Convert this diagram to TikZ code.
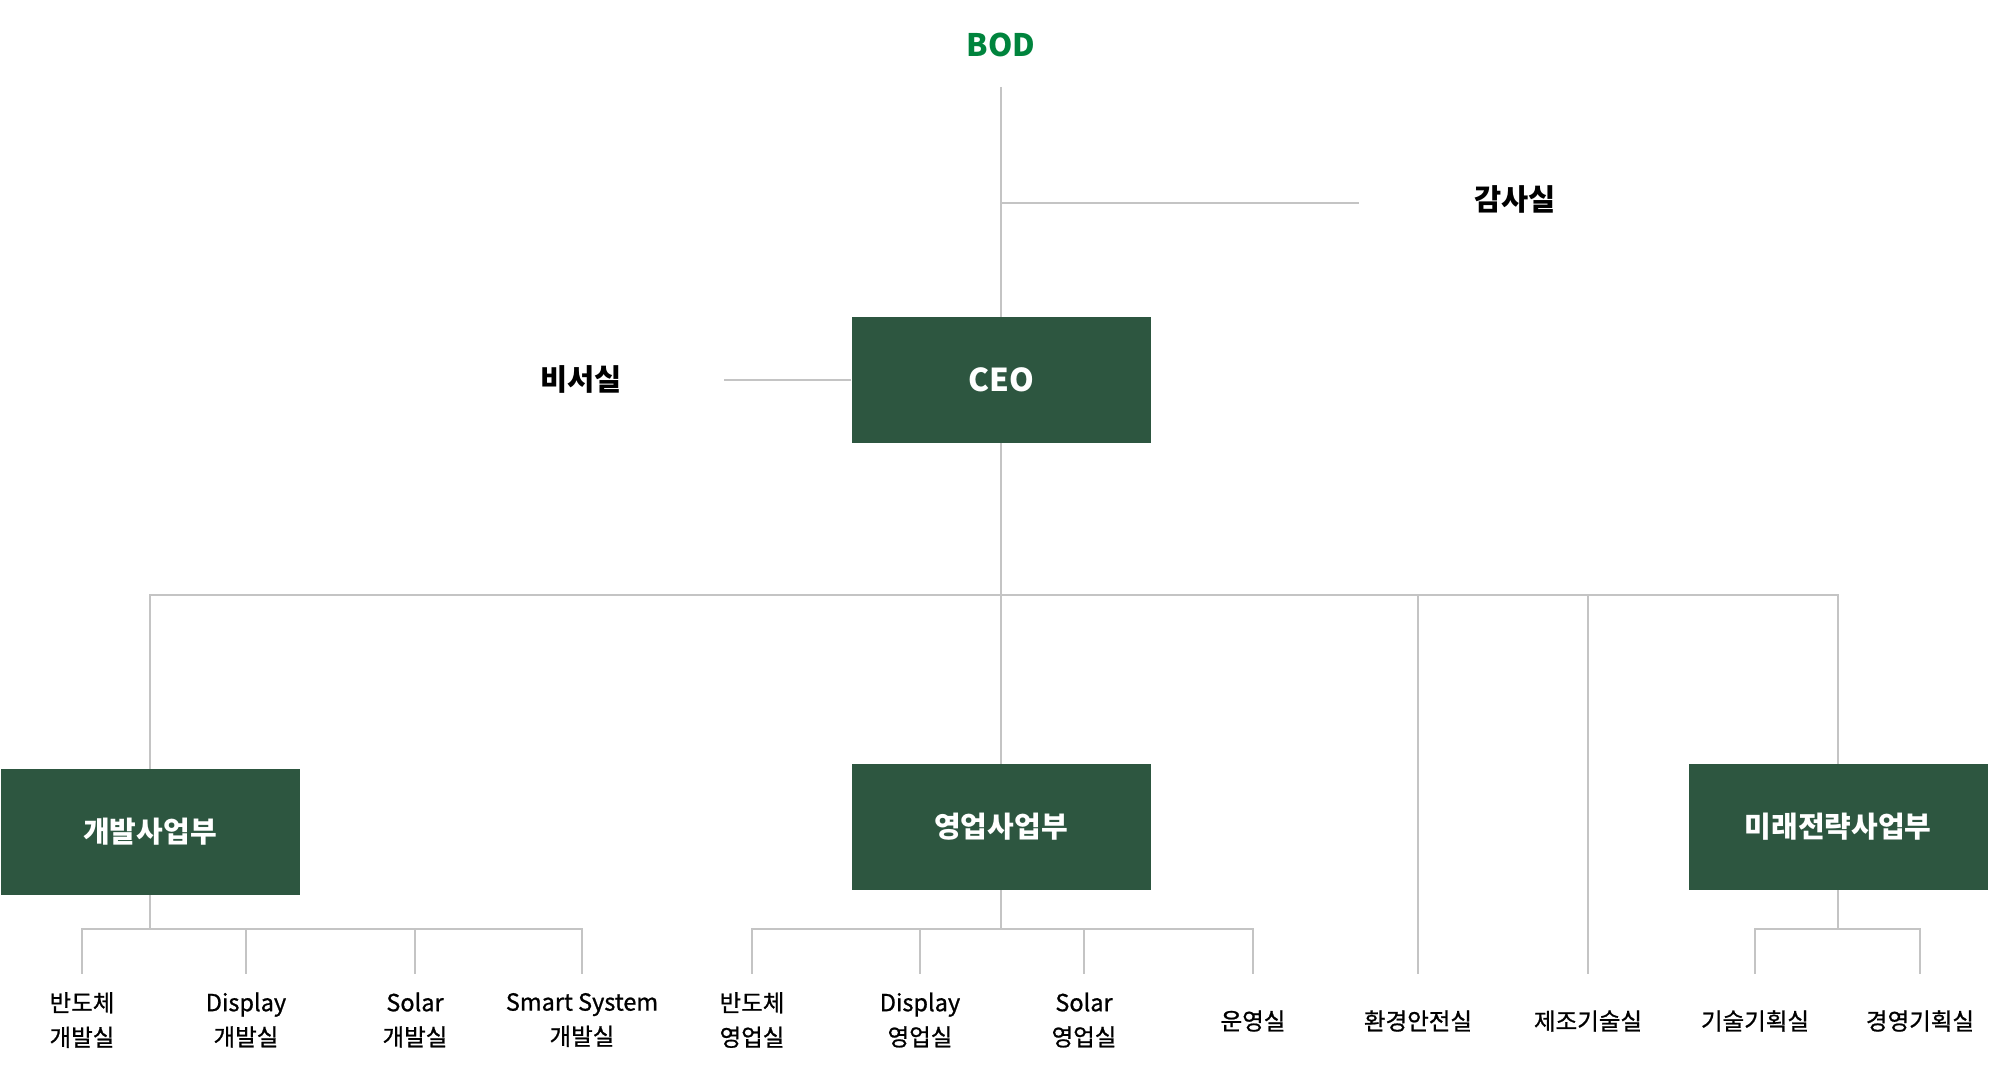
\documentclass[tikz,border=0pt]{standalone}
\usepackage{fontspec}
\setmainfont{Noto Sans CJK KR}
\newfontfamily\krmedium[FakeBold=0.9]{Noto Sans CJK KR}
\usepackage{tikz}
\usetikzlibrary{positioning}

\definecolor{boxgreen}{RGB}{45,86,64}
\definecolor{bodgreen}{RGB}{0,132,61}
\definecolor{linegray}{RGB}{196,196,196}

\begin{document}
\begin{tikzpicture}[
            x=1pt, y=-1pt,
            % Stili
            unit/.style={rectangle, minimum width=299pt, minimum height=126pt, text centered, fill=boxgreen, text=white, font=\bfseries\fontsize{29}{32}\selectfont},
            top/.style={font=\bfseries\fontsize{31}{34}\selectfont, text=bodgreen},
            office/.style={font=\bfseries\fontsize{29.5}{32}\selectfont, text=black},
            team/.style={align=center, font=\krmedium\fontsize{23.5}{34.5}\selectfont, text=black},
            link/.style={draw=linegray, line width=1.5pt}
        ]
        \useasboundingbox (0,0) rectangle (2001,1070);

        % Vertice
        \node (bod) [top] at (1001,45) {BOD};
        \node (audit) [office] at (1515,199) {감사실};
        \node (ceo) [unit, font=\bfseries\fontsize{31.5}{34}\selectfont] at (1001,380) {CEO};
        \node (secretary) [office] at (581,379) {비서실};

        % Sezioni
        \node (dev) [unit] at (150,832) {개발사업부};
        \node (sales) [unit] at (1001,827) {영업사업부};
        \node (strategy) [unit] at (1838,827) {미래전략사업부};

        % Uffici
        \node (semi_dev) [team] at (82,1020) {반도체\\개발실};
        \node (display_dev) [team] at (246,1020) {Display\\개발실};
        \node (solar_dev) [team] at (415,1020) {Solar\\개발실};
        \node (smart_dev) [team] at (582,1020) {Smart System\\개발실};
        \node (semi_sales) [team] at (752,1020) {반도체\\영업실};
        \node (display_sales) [team] at (920,1020) {Display\\영업실};
        \node (solar_sales) [team] at (1084,1020) {Solar\\영업실};
        \node (ops) [team] at (1253,1021) {운영실};
        \node (env) [team] at (1418,1021) {환경안전실};
        \node (mfg) [team] at (1588,1021) {제조기술실};
        \node (tech_plan) [team] at (1755,1021) {기술기획실};
        \node (mgmt_plan) [team] at (1920,1021) {경영기획실};

        % Punti di appoggio
        \coordinate (bod_end) at (1001,87);
        \coordinate (audit_tap) at (1001,203);
        \coordinate (audit_end) at (1359,203);
        \coordinate (secretary_end) at (724,380);
        \coordinate (bus) at (1001,595);
        \coordinate (leaf_top) at (0,974);

        % Collegamenti
        \draw [link] (bod_end) -- (ceo);
        \draw [link] (audit_tap) -- (audit_end);
        \draw [link] (ceo.west) -- (secretary_end);
        \draw [link] (ceo) -- (sales);
        \draw [link] (dev.north) |- (bus) -| (strategy.north);

        % Rami diretti
        \draw [link] (bus) -| (env |- leaf_top);
        \draw [link] (bus) -| (mfg |- leaf_top);

        % Ramo sviluppo
        \draw [link] (dev.south) -- ++(0,34) -| (semi_dev |- leaf_top);
        \draw [link] (dev.south) -- ++(0,34) -| (display_dev |- leaf_top);
        \draw [link] (dev.south) -- ++(0,34) -| (solar_dev |- leaf_top);
        \draw [link] (dev.south) -- ++(0,34) -| (smart_dev |- leaf_top);

        % Ramo vendite
        \draw [link] (sales.south) -- ++(0,39) -| (semi_sales |- leaf_top);
        \draw [link] (sales.south) -- ++(0,39) -| (display_sales |- leaf_top);
        \draw [link] (sales.south) -- ++(0,39) -| (solar_sales |- leaf_top);
        \draw [link] (sales.south) -- ++(0,39) -| (ops |- leaf_top);

        % Ramo strategia
        \draw [link] (strategy.south) -- ++(0,39) -| (tech_plan |- leaf_top);
        \draw [link] (strategy.south) -- ++(0,39) -| (mgmt_plan |- leaf_top);

    \end{tikzpicture}
\end{document}
